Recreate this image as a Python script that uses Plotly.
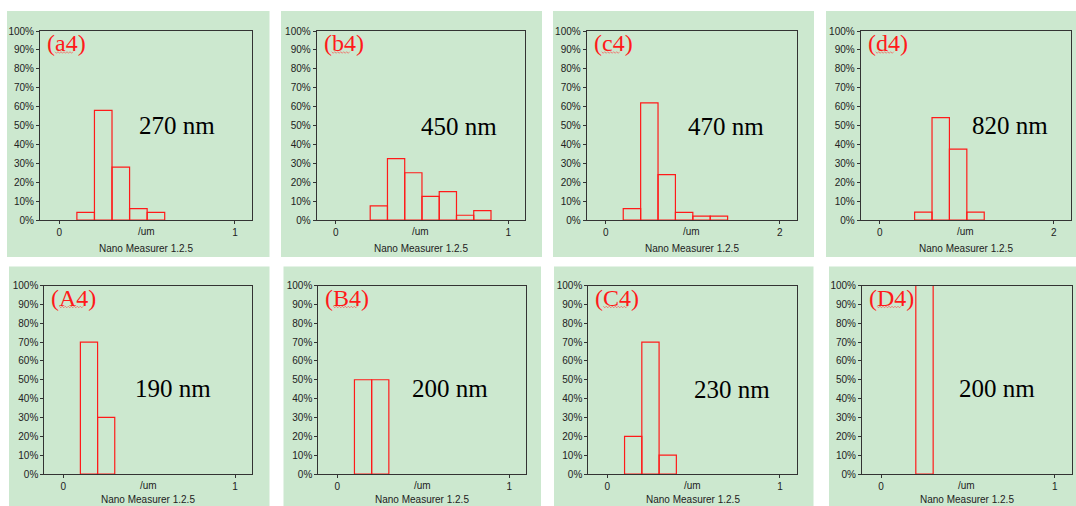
import plotly.graph_objects as go

# Panel tags, mean particle size labels and histogram settings
panel_tags = ["(a4)", "(b4)", "(c4)", "(d4)", "(A4)", "(B4)", "(C4)", "(D4)"]
size_labels = ["270 nm", "450 nm", "470 nm", "820 nm", "190 nm", "200 nm", "230 nm", "200 nm"]
x_max = [1, 1, 2, 2, 1, 1, 1, 1]
bin_width = [0.1, 0.1, 0.2, 0.2, 0.1, 0.1, 0.1, 0.1]
bin_start = [0.1, 0.2, 0.2, 0.4, 0.1, 0.1, 0.1, 0.2]

# Percentage of particles in each bin
pct_a4 = [4, 58, 28, 6, 4]
pct_b4 = [7.5, 32.5, 25, 12.5, 15, 2.5, 5]
pct_c4 = [6, 62, 24, 4, 2, 2]
pct_d4 = [4.17, 54.17, 37.5, 4.17]
pct_A4 = [70, 30]
pct_B4 = [50, 50]
pct_C4 = [20, 70, 10]
pct_D4 = [100]
percentages = [pct_a4, pct_b4, pct_c4, pct_d4, pct_A4, pct_B4, pct_C4, pct_D4]

W, H = 1076, 506
GREEN = "#CCE8CF"
FRAME = "#333333"
RED = "#FF1A1A"

# Plot boxes (left, right, top, bottom) in pixels
boxes = [
    (40, 252, 31, 220), (316.7, 525, 31, 220), (586.7, 796.7, 31, 220), (860.7, 1070.7, 31, 220),
    (44.3, 251.7, 285.5, 474), (318.3, 526, 285.5, 474), (588.3, 796.7, 285.5, 474), (862, 1071.5, 285.5, 474),
]
# Green card behind each histogram (left, right, top, bottom)
cards = [
    (7, 269.5, 11, 257), (281, 542, 11, 257), (553, 814, 11, 257), (826, 1076, 11, 257),
    (9, 269.5, 266.5, 506), (283.5, 541, 266.5, 506), (554, 813.5, 266.5, 506), (829, 1076, 266.5, 506),
]
# Centre of the size label in pixels
size_pos = [
    (176.5, 125), (459, 126), (725.5, 126), (1010, 125),
    (173, 388.5), (450, 388.5), (731.5, 389.5), (997, 388.5),
]

def px(x):
    return x / W

def py(y):
    return 1 - y / H

fig = go.Figure()
shapes = []
annotations = []
tick_font = dict(family="Liberation Sans, Arial, sans-serif", size=10, color="#222222")

for i in range(8):
    sfx = "" if i == 0 else str(i + 1)
    l, r, t, b = boxes[i]
    w = bin_width[i]
    vals = percentages[i]
    centers = [bin_start[i] + (k + 0.5) * w for k in range(len(vals))]
    fig.add_trace(go.Bar(
        x=centers, y=vals, width=[w] * len(vals),
        marker=dict(color="rgba(0,0,0,0)", line=dict(color=RED, width=1.2)),
        xaxis="x" + sfx, yaxis="y" + sfx, showlegend=False,
    ))
    xm = x_max[i]
    fig.layout["xaxis" + sfx] = dict(
        domain=[px(l), px(r)], range=[-0.11 * xm, 1.097 * xm], anchor="y" + sfx,
        tickvals=[0, xm], ticktext=["0", str(xm)], ticks="outside", ticklen=3,
        tickcolor=FRAME, showgrid=False, zeroline=False, showline=True, mirror=True,
        linecolor=FRAME, linewidth=1, tickfont=tick_font, fixedrange=True,
        layer="above traces",
    )
    fig.layout["yaxis" + sfx] = dict(
        domain=[py(b), py(t)], range=[0, 100], anchor="x" + sfx,
        tickvals=list(range(0, 101, 10)), ticktext=[f"{v}%" for v in range(0, 101, 10)],
        ticks="outside", ticklen=3, tickcolor=FRAME, showgrid=False, zeroline=False,
        showline=True, mirror=True, linecolor=FRAME, linewidth=1, tickfont=tick_font,
        fixedrange=True, layer="above traces",
    )
    cl, cr, ct, cb = cards[i]
    shapes.append(dict(type="rect", xref="paper", yref="paper", x0=px(cl), x1=px(cr),
                       y0=py(cb), y1=py(ct), fillcolor=GREEN, line=dict(width=0), layer="below"))
    # axis unit and software caption under each histogram
    annotations.append(dict(x=px((l + r) / 2), y=py(b + 11), xref="paper", yref="paper",
                            text="/um", showarrow=False, font=tick_font,
                            xanchor="center", yanchor="middle"))
    caption_y = min(b + 28, H - 7)
    annotations.append(dict(x=px((l + r) / 2), y=py(caption_y), xref="paper", yref="paper",
                            text="Nano Measurer 1.2.5", showarrow=False, font=tick_font,
                            xanchor="center", yanchor="middle"))
    # panel tag in the top-left corner
    annotations.append(dict(x=px(l + 5), y=py(t + 12), xref="paper", yref="paper",
                            text=panel_tags[i], showarrow=False,
                            font=dict(family="Liberation Serif, Times New Roman, serif", size=24, color=RED),
                            xanchor="left", yanchor="middle"))
    # wavy spell-check underline beneath the tag letters
    x0 = l + 15
    x1 = l + (40 if panel_tags[i][1].isupper() else 33)
    yy = t + 21.5
    pts = []
    xx = x0
    k = 0
    while xx <= x1:
        pts.append((xx, yy + (0.8 if k % 2 else -0.8)))
        xx += 1.5
        k += 1
    path = "M " + " L ".join(f"{px(a):.5f},{py(c):.5f}" for a, c in pts)
    shapes.append(dict(type="path", xref="paper", yref="paper", path=path,
                       line=dict(color="rgba(255,60,60,0.7)", width=0.8)))
    sx, sy = size_pos[i]
    annotations.append(dict(x=px(sx), y=py(sy), xref="paper", yref="paper",
                            text=size_labels[i], showarrow=False,
                            font=dict(family="Liberation Serif, Times New Roman, serif", size=25, color="black"),
                            xanchor="center", yanchor="middle"))

fig.update_layout(
    width=W, height=H, margin=dict(l=0, r=0, t=0, b=0, autoexpand=False),
    paper_bgcolor="white", plot_bgcolor="rgba(0,0,0,0)",
    shapes=shapes, annotations=annotations, barmode="overlay",
)

fig.write_html("out.html", config={"displayModeBar": False})
